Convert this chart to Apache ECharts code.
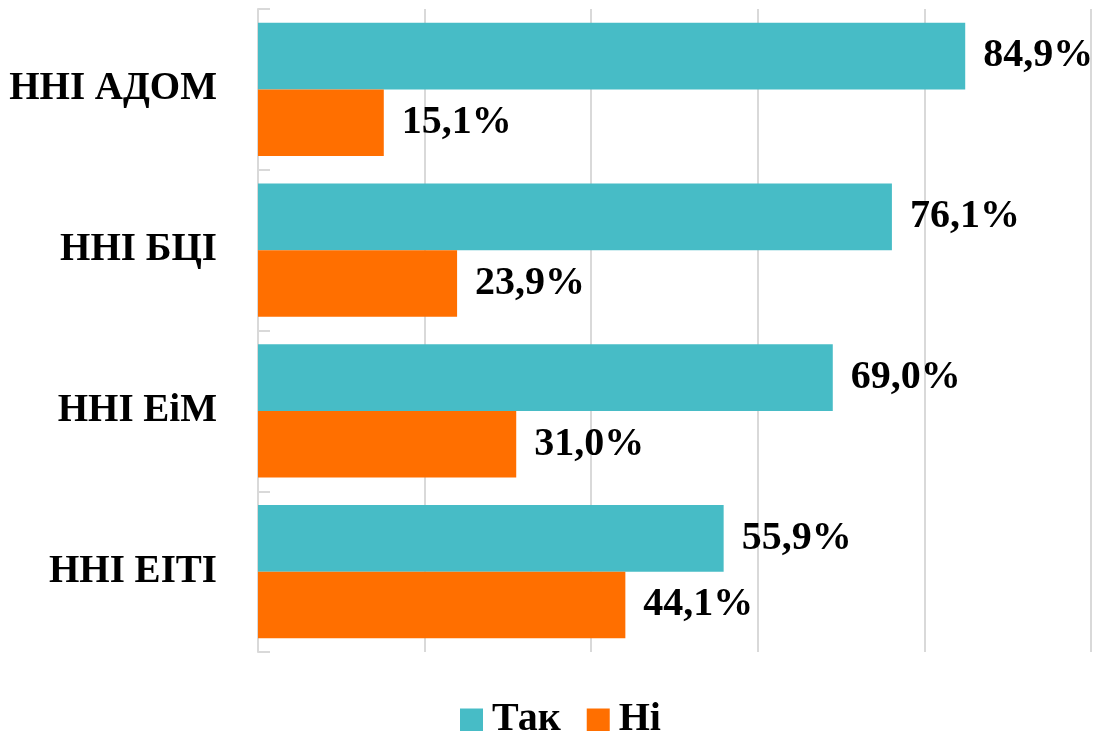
<!DOCTYPE html>
<html>
<head>
<meta charset="utf-8">
<script src="https://cdn.jsdelivr.net/npm/echarts@6/dist/echarts.min.js"></script>
<style>
html,body{margin:0;padding:0;background:#fff;}
#chart{width:1097px;height:731px;}
</style>
</head>
<body>
<div id="chart"></div>
<script>
const categories = ['ННІ АДОМ', 'ННІ БЦІ', 'ННІ ЕіМ', 'ННІ ЕІТІ'];
const seriesNames = ['Так', 'Ні'];
const yesValues = [84.9, 76.1, 69.0, 55.9];
const noValues = [15.1, 23.9, 31.0, 44.1];

const FONT = '"Liberation Serif", "Times New Roman", serif';
const fmt = p => p.value.toFixed(1).replace('.', ',') + '%';
const labelStyle = {
  show: true, position: 'right', distance: 18, formatter: fmt,
  fontFamily: FONT, fontWeight: 'bold', fontSize: 40, color: '#000'
};

const chart = echarts.init(document.getElementById('chart'));
chart.setOption({
  animation: false,
  backgroundColor: '#fff',
  grid: { left: 258, right: 6, top: 9, bottom: 79, containLabel: false },
  legend: {
    data: seriesNames,
    left: 455, top: 695,
    itemWidth: 23, itemHeight: 23, itemGap: 26,
    icon: 'rect',
    textStyle: { fontFamily: FONT, fontWeight: 'bold', fontSize: 40, color: '#000', lineHeight: 40, padding: [0, 0, 0, 4] }
  },
  xAxis: {
    type: 'value', min: 0, max: 100, interval: 20,
    axisLabel: { show: false },
    axisLine: { show: false },
    axisTick: { show: false },
    splitLine: { show: true, lineStyle: { color: '#d9d9d9', width: 2 } }
  },
  yAxis: {
    type: 'category', data: categories, inverse: true,
    axisLine: { show: true, lineStyle: { color: '#d9d9d9', width: 2 } },
    axisTick: { show: true, inside: true, length: 12, lineStyle: { color: '#d9d9d9', width: 2 } },
    axisLabel: { fontFamily: FONT, fontWeight: 'bold', fontSize: 39, color: '#000', margin: 41 }
  },
  series: [
    { name: seriesNames[0], type: 'bar', data: yesValues, barGap: 0, barCategoryGap: '17%',
      itemStyle: { color: '#47BCC6' }, label: labelStyle },
    { name: seriesNames[1], type: 'bar', data: noValues, barGap: 0, barCategoryGap: '17%',
      itemStyle: { color: '#FF6F00' }, label: labelStyle }
  ]
});
</script>
</body>
</html>
